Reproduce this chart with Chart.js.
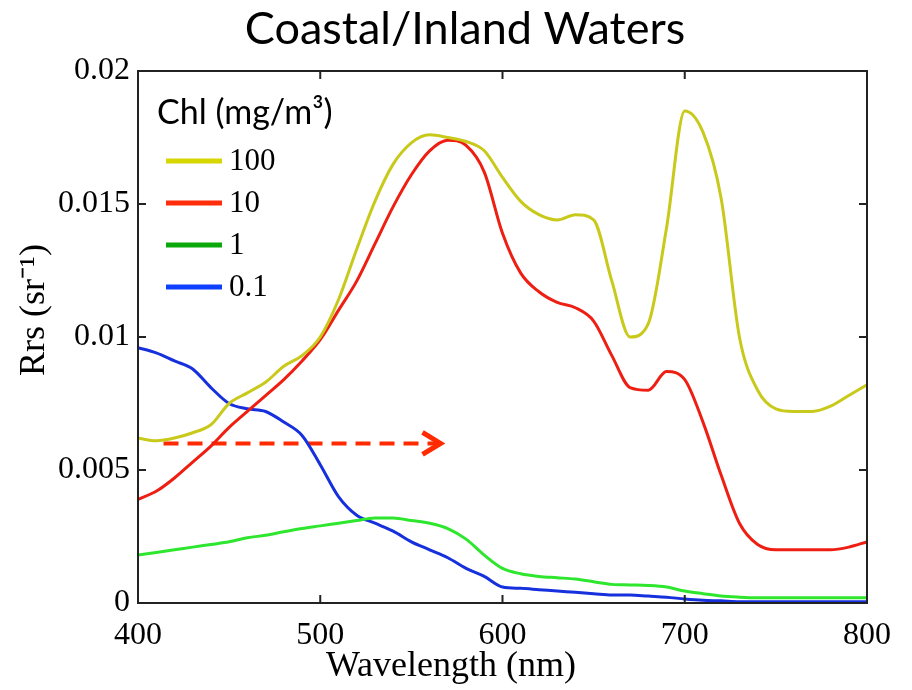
<!DOCTYPE html>
<html>
<head>
<meta charset="utf-8">
<script src="https://cdn.jsdelivr.net/npm/chart.js@4/dist/chart.umd.min.js"></script>
<style>
  body { margin: 0; background: #fff; }
  #wrap { width: 912px; height: 690px; }
</style>
</head>
<body>
<div id="wrap"><canvas id="rrsChart" width="912" height="690"></canvas></div>
<script>
// remote sensing reflectance spectra for four chlorophyll levels
const wavelengths = [400, 410, 420, 430, 440, 450, 460, 470, 480, 490,
                     500, 510, 520, 530, 540, 550, 560, 570, 580, 590,
                     600, 610, 620, 630, 640, 650, 660, 670, 680, 690,
                     700, 710, 720, 730, 740, 750, 760, 770, 780, 790, 800]

const chl100 = [0.0062, 0.0061, 0.0062, 0.0064, 0.0067, 0.0075, 0.0079, 0.0083, 0.0089, 0.0093,
                0.0100, 0.0114, 0.0133, 0.0151, 0.0165, 0.0173, 0.0176, 0.0175, 0.01735, 0.0170,
                0.0160, 0.0151, 0.0146, 0.0144, 0.0146, 0.0144, 0.0121, 0.0100, 0.0105, 0.0141,
                0.0185, 0.0177, 0.0152, 0.0100, 0.0080, 0.0073, 0.0072, 0.0072, 0.0074, 0.0078, 0.0082]

const chl10 = [0.0039, 0.0042, 0.0047, 0.0053, 0.0059, 0.0066, 0.0072, 0.0078, 0.0084, 0.0091,
               0.0099, 0.0110, 0.0121, 0.0135, 0.0149, 0.0161, 0.0170, 0.0174, 0.0172, 0.0162,
               0.0139, 0.0124, 0.0117, 0.0113, 0.0111, 0.0106, 0.0093, 0.0081, 0.0080, 0.0087,
               0.0084, 0.0068, 0.0048, 0.0030, 0.0022, 0.0020, 0.0020, 0.0020, 0.0020, 0.0021, 0.0023]

const chl1 = [0.0018, 0.0019, 0.0020, 0.0021, 0.0022, 0.0023, 0.00245, 0.00255, 0.00268, 0.0028,
              0.0029, 0.0030, 0.0031, 0.0032, 0.0032, 0.0031, 0.0030, 0.0028, 0.0024, 0.0018,
              0.0013, 0.0011, 0.0010, 0.00095, 0.0009, 0.0008, 0.0007, 0.00068, 0.00066, 0.0006,
              0.00045, 0.00035, 0.00026, 0.00022, 0.0002, 0.0002, 0.0002, 0.0002, 0.0002, 0.0002, 0.0002]

const chl01 = [0.0096, 0.0094, 0.0091, 0.0088, 0.0081, 0.0075, 0.0073, 0.0072, 0.0068, 0.0063,
               0.0052, 0.0040, 0.0033, 0.0030, 0.0027, 0.0023, 0.0020, 0.0017, 0.0013, 0.0010,
               0.0006, 0.00055, 0.0005, 0.00045, 0.0004, 0.00035, 0.0003, 0.0003, 0.00026, 0.00022,
               0.00015, 0.0001, 0.00008, 0.00005, 0.00005, 0.00005, 0.00005, 0.00005, 0.00005, 0.00005, 0.00005]

const seriesLabels = ['100', '10', '1', '0.1']
const seriesValues = [chl100, chl10, chl1, chl01]
const lineColors = ['#c9c91c', '#ee1f12', '#2ee62e', '#1530dc']
const legendColors = ['#d6d600', '#ff2d0a', '#0aa80a', '#1040ff']

// dashed arrow showing the shift of the peak with increasing chl
const arrowX = [414, 566]
const arrowY = [0.006, 0.006]

const xTicks = [400, 500, 600, 700, 800]
const yTicks = [0, 0.005, 0.01, 0.015, 0.02]

const datasets = seriesValues.map((vals, i) => ({
  label: seriesLabels[i],
  data: wavelengths.map((w, j) => ({x: w, y: vals[j]})),
  borderColor: lineColors[i],
  borderWidth: 3,
  pointRadius: 0,
  cubicInterpolationMode: 'monotone'
}))

datasets.push({
  label: 'arrow',
  data: arrowX.map((w, j) => ({x: w, y: arrowY[j]})),
  borderColor: '#ff2a00',
  borderWidth: 4,
  borderDash: [15, 9],
  pointRadius: 0
})

const framePlugin = {
  id: 'frame',
  afterDraw(chart) {
    const {ctx, chartArea: a, scales: {x, y}} = chart
    ctx.save()

    // arrow head
    const hx = x.getPixelForValue(arrowX[1])
    const hy = y.getPixelForValue(arrowY[1])
    ctx.strokeStyle = '#ff2a00'
    ctx.lineWidth = 5
    ctx.beginPath()
    ctx.moveTo(hx - 18, hy - 11)
    ctx.lineTo(hx, hy)
    ctx.lineTo(hx - 18, hy + 11)
    ctx.stroke()

    // box and inward ticks
    ctx.strokeStyle = '#222'
    ctx.lineWidth = 2
    ctx.strokeRect(a.left, a.top, a.right - a.left, a.bottom - a.top)
    ctx.beginPath()
    x.ticks.forEach(t => {
      const px = x.getPixelForValue(t.value)
      ctx.moveTo(px, a.bottom); ctx.lineTo(px, a.bottom - 8)
      ctx.moveTo(px, a.top); ctx.lineTo(px, a.top + 8)
    })
    y.ticks.forEach(t => {
      const py = y.getPixelForValue(t.value)
      ctx.moveTo(a.left, py); ctx.lineTo(a.left + 8, py)
      ctx.moveTo(a.right, py); ctx.lineTo(a.right - 8, py)
    })
    ctx.stroke()

    // chart title and axis titles
    ctx.fillStyle = '#000'
    ctx.textBaseline = 'middle'
    ctx.textAlign = 'center'
    ctx.font = '45px Lato'
    ctx.fillText('Coastal/Inland Waters', 465, 29)
    ctx.font = '36px "Liberation Serif"'
    ctx.fillText('Wavelength (nm)', 451, 667)
    ctx.save()
    ctx.translate(35, 310)
    ctx.rotate(-Math.PI / 2)
    ctx.fillText('Rrs (sr⁻¹)', 0, 0)
    ctx.restore()

    // legend
    ctx.textAlign = 'left'
    ctx.font = '34px Lato'
    ctx.fillText('Chl (mg/m³)', 157, 113)
    ctx.font = '31px "Liberation Serif"'
    seriesLabels.forEach((lab, i) => {
      const ly = 161 + i * 42
      ctx.strokeStyle = legendColors[i]
      ctx.lineWidth = 5
      ctx.beginPath()
      ctx.moveTo(166, ly)
      ctx.lineTo(222, ly)
      ctx.stroke()
      ctx.fillText(lab, 229, ly + 1)
    })
    ctx.restore()
  }
}

new Chart(document.getElementById('rrsChart'), {
  type: 'line',
  data: {datasets: datasets},
  plugins: [framePlugin],
  options: {
    responsive: false,
    animation: false,
    layout: {padding: {top: 71, right: 45, bottom: 0, left: 0}},
    plugins: {
      legend: {display: false},
      tooltip: {enabled: false},
      title: {display: false}
    },
    scales: {
      x: {
        type: 'linear',
        min: 400,
        max: 800,
        afterBuildTicks: axis => { axis.ticks = xTicks.map(v => ({value: v})) },
        afterFit: scale => { scale.height = 87 },
        grid: {display: false, drawTicks: false},
        border: {display: false},
        ticks: {
          color: '#000',
          padding: 13,
          maxRotation: 0,
          font: {family: 'Liberation Serif', size: 32}
        }
      },
      y: {
        min: 0,
        max: 0.02,
        afterBuildTicks: axis => { axis.ticks = yTicks.map(v => ({value: v})) },
        afterFit: scale => { scale.width = 138 },
        grid: {display: false, drawTicks: false},
        border: {display: false},
        ticks: {
          color: '#000',
          padding: 8,
          font: {family: 'Liberation Serif', size: 32},
          callback: v => String(Number(v.toFixed(3)))
        }
      }
    }
  }
})
</script>
</body>
</html>
